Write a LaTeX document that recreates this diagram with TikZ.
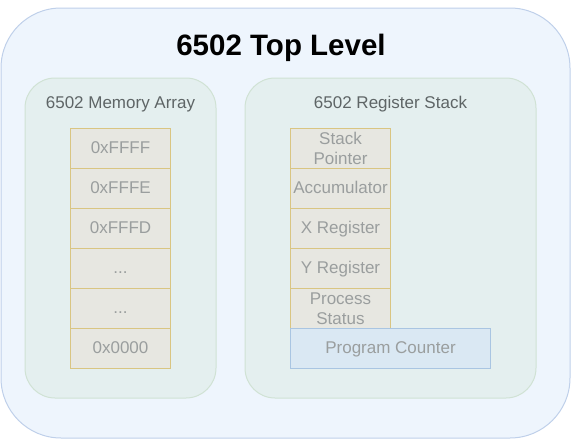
\documentclass[tikz,border=0pt]{standalone}
\usepackage{fontspec}
\setmainfont{Liberation Sans}
\definecolor{outerfill}{HTML}{EEF5FD}
\definecolor{outerline}{HTML}{BFD0EA}
\definecolor{innerfill}{HTML}{E4EFEF}
\definecolor{innerline}{HTML}{D0E2D4}
\definecolor{cellfill}{HTML}{E7E7E1}
\definecolor{cellline}{HTML}{D9C582}
\definecolor{pcfill}{HTML}{DAE8F3}
\definecolor{pcline}{HTML}{A9C5E2}
\definecolor{celltext}{HTML}{9A9E9E}
\definecolor{labeltext}{HTML}{5E6566}
\tikzset{
  outerbox/.style={draw=outerline, fill=outerfill, line width=1pt, rounded corners=60pt, inner sep=0pt},
  groupbox/.style={draw=innerline, fill=innerfill, line width=1pt, rounded corners=30pt, inner sep=0pt},
  grouplabel/.style={text=labeltext, font=\fontsize{17}{20}\selectfont, anchor=base, inner sep=0pt},
  cell/.style={draw=cellline, fill=cellfill, line width=1pt, minimum width=100pt, minimum height=40pt,
    inner sep=0pt, text=celltext, font=\fontsize{17}{20}\selectfont, text height=12.2pt, text depth=2pt},
  cellml/.style={cell, text height=, text depth=, align=center},
  pccell/.style={cell, draw=pcline, fill=pcfill, minimum width=200pt},
  titletext/.style={font=\bfseries\fontsize{29.5}{32}\selectfont, anchor=base, inner sep=0pt}
}
\begin{document}
\begin{tikzpicture}[x=1pt,y=-1pt]
\useasboundingbox (0,0) rectangle (571,439);
\node[outerbox, minimum width=569pt, minimum height=430pt] (top) at (285.5,223) {};
\node[titletext] (title) at (281,55) {6502 Top Level};
\node[groupbox, minimum width=191pt, minimum height=320pt] (mem) at (120.5,238) {};
\node[groupbox, minimum width=291pt, minimum height=320pt] (reg) at (390.5,238) {};
\node[grouplabel] (memlabel) at (120.5,108) {6502 Memory Array};
\node[grouplabel] (reglabel) at (390.5,108) {6502 Register Stack};
% memory cells
\node[cell] (m1) at (120.5,148.5) {0xFFFF};
\node[cell] (m2) at (120.5,188.5) {0xFFFE};
\node[cell] (m3) at (120.5,228.5) {0xFFFD};
\node[cell] (m4) at (120.5,268.5) {...};
\node[cell] (m5) at (120.5,308.5) {...};
\node[cell] (m6) at (120.5,348.5) {0x0000};
% register cells
\node[cellml] (r1) at (340.5,148.5) {Stack\\Pointer};
\node[cell] (r2) at (340.5,188.5) {Accumulator};
\node[cell] (r3) at (340.5,228.5) {X Register};
\node[cell] (r4) at (340.5,268.5) {Y Register};
\node[cellml] (r5) at (340.5,308.5) {Process\\Status};
\node[pccell] (pc) at (390.5,348.5) {Program Counter};
\end{tikzpicture}
\end{document}
